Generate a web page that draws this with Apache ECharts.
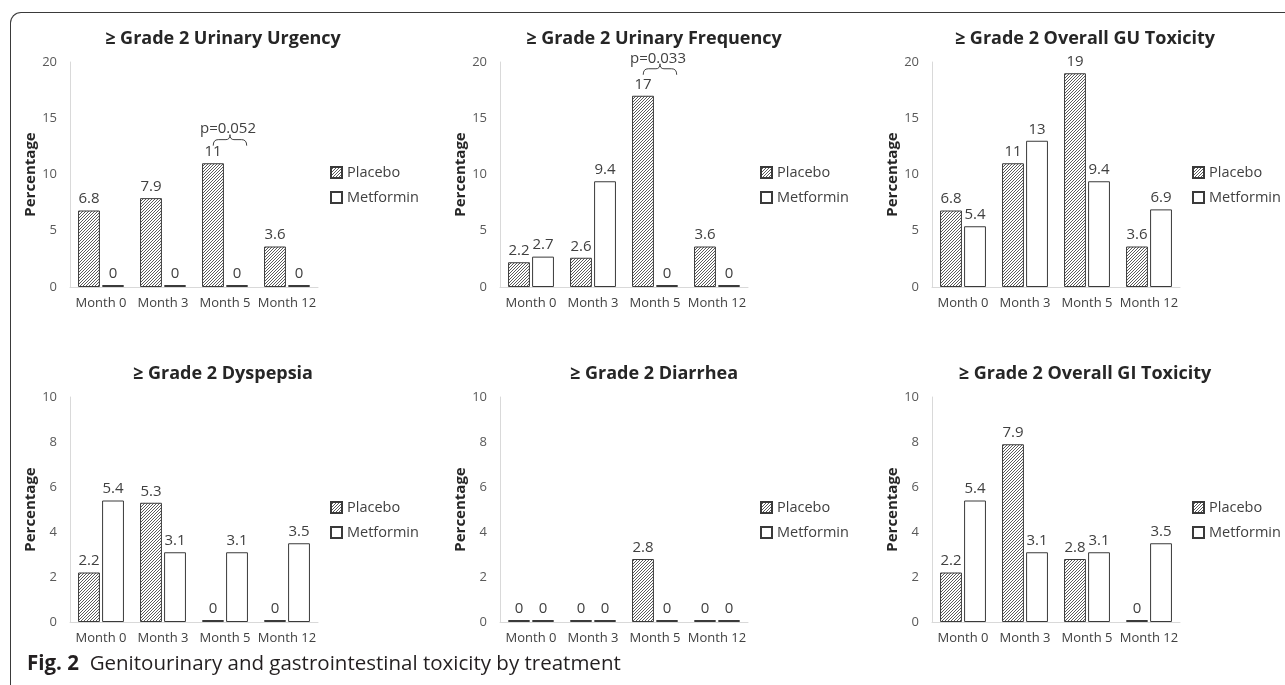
<!DOCTYPE html>
<html>
<head>
<meta charset="utf-8">
<script src="https://cdn.jsdelivr.net/npm/echarts@6/dist/echarts.min.js"></script>
<style>
  html, body { margin: 0; padding: 0; background: #fff; }
  body { width: 1285px; height: 685px; position: relative; overflow: hidden; }
  #frame {
    position: absolute; left: 10px; top: 12px; width: 1300px; height: 700px;
    border-top: 1px solid #3a3a3a; border-left: 1px solid #3a3a3a;
    border-top-left-radius: 11px;
  }
  #chart { position: absolute; left: 0; top: 0; width: 1285px; height: 685px; }
  #caption {
    position: absolute; left: 27px; top: 648px;
    font-family: "Open Sans", sans-serif; font-size: 20.5px; color: #231f20;
    white-space: pre; line-height: 28px;
  }
  #caption b { font-weight: 700; }
</style>
</head>
<body>
<div id="frame"></div>
<div id="chart"></div>
<div id="caption"><b>Fig. 2</b>  Genitourinary and gastrointestinal toxicity by treatment</div>
<script>
// categories and series
const months = ['Month 0', 'Month 3', 'Month 5', 'Month 12']
const seriesNames = ['Placebo', 'Metformin']

const titles = [
  '≥ Grade 2 Urinary Urgency',
  '≥ Grade 2 Urinary Frequency',
  '≥ Grade 2 Overall GU Toxicity',
  '≥ Grade 2 Dyspepsia',
  '≥ Grade 2 Diarrhea',
  '≥ Grade 2 Overall GI Toxicity'
]

const urgencyPlacebo = [6.8, 7.9, 11, 3.6]
const urgencyMetformin = [0, 0, 0, 0]
const frequencyPlacebo = [2.2, 2.6, 17, 3.6]
const frequencyMetformin = [2.7, 9.4, 0, 0]
const guPlacebo = [6.8, 11, 19, 3.6]
const guMetformin = [5.4, 13, 9.4, 6.9]
const dyspepsiaPlacebo = [2.2, 5.3, 0, 0]
const dyspepsiaMetformin = [5.4, 3.1, 3.1, 3.5]
const diarrheaPlacebo = [0, 0, 2.8, 0]
const diarrheaMetformin = [0, 0, 0, 0]
const giPlacebo = [2.2, 7.9, 2.8, 0]
const giMetformin = [5.4, 3.1, 3.1, 3.5]

const placeboData = [urgencyPlacebo, frequencyPlacebo, guPlacebo, dyspepsiaPlacebo, diarrheaPlacebo, giPlacebo]
const metforminData = [urgencyMetformin, frequencyMetformin, guMetformin, dyspepsiaMetformin, diarrheaMetformin, giMetformin]

// y axis ranges per panel
const yMax = [20, 20, 20, 10, 10, 10]
const yStep = [5, 5, 5, 2, 2, 2]

// p-value annotations: panel index, category, y value of the brace
const pPanels = [0, 1]
const pMonths = [2, 2]
const pValues = [13.1, 19.4]
const pTexts = ['p=0.052', 'p=0.033']

// layout
const gridLefts = [70, 500, 932]
const gridTops = [62, 397]
const titleCenters = [218, 649, 1080]
const legendLefts = [330, 760, 1192]
const FONT = '"Open Sans", sans-serif'
const TEXT = '#404040'

// hatched fill for placebo bars
const makeHatch = () => {
  const c = document.createElement('canvas')
  c.width = 3; c.height = 3
  const ctx = c.getContext('2d')
  ctx.fillStyle = '#ffffff'
  ctx.fillRect(0, 0, 3, 3)
  ctx.strokeStyle = '#5a5a5a'
  ctx.lineWidth = 1
  ctx.beginPath()
  ctx.moveTo(0, 3); ctx.lineTo(3, 0)
  ctx.moveTo(-1, 1); ctx.lineTo(1, -1)
  ctx.moveTo(2, 4); ctx.lineTo(4, 2)
  ctx.stroke()
  return c
}
const hatch = { image: makeHatch(), repeat: 'repeat' }

const grid = [], xAxis = [], yAxis = [], title = [], legend = [], series = []

titles.forEach((t, i) => {
  const col = i % 3
  const row = Math.floor(i / 3)
  grid.push({ left: gridLefts[col], top: gridTops[row], width: 248, height: 225 })
  title.push({
    text: t,
    left: titleCenters[col],
    top: gridTops[row] - 37,
    textAlign: 'center',
    textStyle: { fontFamily: FONT, fontSize: 18, fontWeight: 'bold', color: '#262626' }
  })
  legend.push({
    data: seriesNames,
    orient: 'vertical',
    left: legendLefts[col],
    top: gridTops[row] + 103,
    padding: 0,
    icon: 'rect',
    itemWidth: 11,
    itemHeight: 11,
    itemGap: 10,
    selectedMode: false,
    textStyle: { fontFamily: FONT, fontSize: 14.5, color: TEXT }
  })
  xAxis.push({
    type: 'category',
    gridIndex: i,
    data: months,
    axisLine: { lineStyle: { color: '#d9d9d9', width: 1 } },
    axisTick: { show: false },
    axisLabel: { interval: 0, fontFamily: FONT, fontSize: 13, color: TEXT, margin: 10 }
  })
  yAxis.push({
    type: 'value',
    gridIndex: i,
    min: 0,
    max: yMax[i],
    interval: yStep[i],
    name: 'Percentage',
    nameLocation: 'middle',
    nameGap: 30,
    nameTextStyle: { fontFamily: FONT, fontSize: 15, fontWeight: 'bold', color: '#262626' },
    axisLine: { show: true, lineStyle: { color: '#d9d9d9', width: 1 } },
    axisTick: { show: false },
    splitLine: { show: false },
    axisLabel: { fontFamily: FONT, fontSize: 13, color: '#595959', margin: 13 }
  })
  const label = {
    show: true,
    position: 'top',
    distance: 4,
    fontFamily: FONT,
    fontSize: 15,
    color: TEXT
  }
  series.push({
    name: 'Placebo',
    type: 'bar',
    xAxisIndex: i,
    yAxisIndex: i,
    data: placeboData[i],
    barCategoryGap: '26%',
    barGap: '10%',
    barMinHeight: 2,
    itemStyle: { color: hatch, borderColor: '#3a3a3a', borderWidth: 1 },
    label
  })
  series.push({
    name: 'Metformin',
    type: 'bar',
    xAxisIndex: i,
    yAxisIndex: i,
    data: metforminData[i],
    barCategoryGap: '26%',
    barGap: '10%',
    barMinHeight: 2,
    itemStyle: { color: '#ffffff', borderColor: '#3a3a3a', borderWidth: 1 },
    label
  })
})

// curly brace + p value, placed through the panel's own axes
pPanels.forEach((panel, k) => {
  series.push({
    type: 'custom',
    xAxisIndex: panel,
    yAxisIndex: panel,
    silent: true,
    z: 5,
    data: [[pMonths[k], pValues[k]]],
    renderItem: (params, api) => {
      const p = api.coord([api.value(0), api.value(1)])
      const bw = api.size([1, 0])[0]
      const cx = p[0] + bw * 0.08
      const y = p[1]
      const hw = bw * 0.27
      const d = `M${cx - hw},${y + 6} Q${cx - hw},${y} ${cx - hw + 5},${y} ` +
        `L${cx - 4},${y} Q${cx},${y} ${cx},${y - 5} Q${cx},${y} ${cx + 4},${y} ` +
        `L${cx + hw - 5},${y} Q${cx + hw},${y} ${cx + hw},${y + 6}`
      return {
        type: 'group',
        children: [
          { type: 'path', shape: { pathData: d }, style: { fill: 'none', stroke: '#404040', lineWidth: 1 } },
          {
            type: 'text',
            style: {
              text: pTexts[k], x: cx - 2, y: y - 3,
              align: 'center', verticalAlign: 'bottom',
              fill: TEXT, font: `15px ${FONT}`
            }
          }
        ]
      }
    }
  })
})

const chart = echarts.init(document.getElementById('chart'), null, { renderer: 'canvas' })
chart.setOption({
  animation: false,
  backgroundColor: 'transparent',
  title, legend, grid, xAxis, yAxis, series
})
</script>
</body>
</html>
